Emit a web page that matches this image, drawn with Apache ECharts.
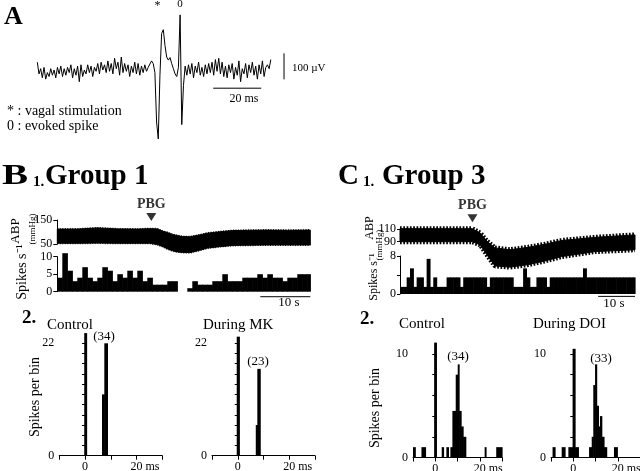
<!DOCTYPE html>
<html><head><meta charset="utf-8">
<script src="https://cdn.jsdelivr.net/npm/echarts@6/dist/echarts.min.js"></script>
<style>html,body{margin:0;padding:0;background:#fff}#c{width:640px;height:471px}</style>
</head><body><div id="c"></div>
<script>
// ================= DATA =================
// Panel A: extracellular trace, one sample every aDt ms (µV)
const aDt = 0.7;
const aVolt = [
  30,-15,5,-30,10,-35,-10,-25,5,-20,
  0,-30,10,-15,15,-25,5,-20,10,-10,
  20,-30,5,-20,15,-45,20,-25,0,-15,
  20,-10,15,-25,10,-5,25,-15,30,0,
  20,-10,35,-5,25,-15,45,5,30,-20,
  50,-10,25,-5,20,-25,15,-10,30,-15,
  25,-20,15,-10,20,-5,10,5,
  35,25,-10,-200,-265,-20,140,155,95,50,38,48,25,5,-15,-25,10,212,-210,-60,15,
  -20,20,-15,25,-30,15,-10,30,-20,10,
  -25,20,-15,25,-10,30,-20,40,-5,45,
  -15,30,-25,15,-30,20,-10,25,-35,10,
  -20,35,-45,5,-15,25,-30,20,-10,30,
  -20,15,-35,20,-15,35,-25,10,20,5,
  40
];
const aScaleV = 100;   // µV
const aScaleT = 20;    // ms

// Panel B1 (Group 1): arterial blood pressure envelope (mmHg) vs time (s)
const bTime   = [0, 4, 8, 12, 16, 18.5, 20, 21, 22, 23, 24, 25, 26.5, 28.5, 30, 32, 35, 38, 42, 46, 50.6];
const bAbpHi  = [112,112,117,113,112,114,113,104,98,90,85,81,80,88,95,100,106,107,108,107,108];
const bAbpLo  = [53,53,54,53,53,53,48,40,30,22,17,15,14,24,33,38,44,45,46,46,46];
// B1 firing rate, 1-s bins (spikes/s)
const bBinW = 1;
const bSpikes = [
  4,11,6,3,4,7,4,3,4,7,
  6,3,5,4,6,4,6,3,4,2,
  2,2,3,3,0,0,1,3,2,2,
  2,3,3,5,3,3,3,4,4,4,
  5,4,5,4,4,3,4,4,5,5,
  5
];
const bPbg = 18.8;      // s, PBG injection
const bTimeMax = 50.6;

// Panel C1 (Group 3)
const cTime  = [0, 10, 20.6, 22.9, 24.8, 27.1, 31.4, 36.6, 41.4, 46.2, 55.7, 67.1];
const cAbpHi = [111,111,111,104,91,80,77,81,86,92,97,101];
const cAbpLo = [90,90,90,85,69,51,49,53,59,66,74,77];
const cBinW = 0.95;
const cSpikes = [
  1.5,1.5,3.5,5.4,1.5,3.5,3.5,1.5,7.4,1.5,
  3.5,1.5,1.5,1.5,3.5,3.5,3.5,3.5,1.5,3.5,
  3.5,3.5,3.5,3.5,3.5,3.5,1.5,3.5,3.5,3.5,
  3.5,3.5,3.5,3.5,1.5,1.5,1.5,5.4,3.5,1.5,
  1.5,3.5,3.5,3.5,1.5,3.5,3.5,3.5,3.5,3.5,
  3.5,3.5,3.5,3.5,3.5,5.4,3.5,3.5,3.5,3.5,
  3.5,3.5,3.5,3.5,3.5,3.5,3.5,3.5,3.5,3.5,
  3.5
];
const cPbg = 20.7;
const cTimeMax = 67.1;

// Peristimulus histograms: [binStart ms, binEnd ms, spikes per bin]
const bCtrlBins = [[-0.3,0.6,24],[6.6,7.5,12],[7.5,8.7,22]];
const bMkBins   = [[-0.4,0.6,23.3],[7.0,7.6,6],[7.6,8.7,17]];
const cCtrlBins = [[-10,-9,1],[-6.2,-4.4,1],[-0.5,0.5,11.1],[2.9,3.7,1],[5.0,5.9,1],[6.8,7.7,1],
  [7.7,9.2,4.5],[9.2,10.1,8],[10.1,10.7,9],[10.7,11.6,4.5],[11.6,12.5,3],[12.5,13.7,2],[22.2,22.8,1],[27.4,30,1]];
const cDoiBins  = [[-9.3,-8.2,1],[-5.2,-3.7,1],[-2.2,-0.3,1],[-0.3,0.8,10.5],[0.8,2.3,1],[7.1,8.3,1],
  [8.3,9.0,2],[9.0,9.8,7],[9.8,10.5,9],[10.5,11.3,5],[11.3,12,3],[12,12.8,4],[12.8,13.8,2],[13.8,15,1],[18.3,19.8,1]];
const bCounts = ['(34)', '(23)'];
const cCounts = ['(34)', '(33)'];

// ================= CHART =================
const SERIF = '"Liberation Serif","Times New Roman",serif';
const chart = echarts.init(document.getElementById('c'), null, {renderer:'canvas', width:640, height:471});

function g(left, top, width, height){ return {left, top, width, height, containLabel:false, outerBoundsMode:'none'}; }
const grids = [
  g(37.3, 5, 288, 143),        // 0 A
  g(57.3, 220, 253, 24),       // 1 B ABP
  g(57.3, 256.7, 253, 35),     // 2 B spikes
  g(400, 229.3, 235, 12.4),    // 3 C ABP
  g(400, 256, 235, 38),        // 4 C spikes
  g(59.25, 343.3, 103, 112.4), // 5 B ctrl
  g(212, 343.3, 103, 112.4),   // 6 B MK
  g(413, 354, 89, 103.5),      // 7 C ctrl
  g(551, 354, 89, 103.5)       // 8 C DOI
];

const lab = {color:'#000', fontFamily:SERIF, fontSize:12};
function hidden(gi, min, max){ return {type:'value', gridIndex:gi, min, max, show:false}; }
function yAx(gi, min, max, interval, shown, tickLen, margin){
  return {type:'value', gridIndex:gi, min, max, interval,
    axisLine:{show:true, lineStyle:{color:'#000', width:1}},
    axisTick:{show:true, length:tickLen, lineStyle:{color:'#000', width:1}},
    axisLabel:Object.assign({margin, showMinLabel:true, showMaxLabel:true,
      formatter:v => shown.indexOf(v) >= 0 ? String(v) : ''}, lab),
    splitLine:{show:false}};
}
function xMs(gi){
  return {type:'value', gridIndex:gi, min:-10, max:30, interval:10,
    axisLine:{show:true, onZero:false, lineStyle:{color:'#000', width:1}},
    axisTick:{show:true, length:4, lineStyle:{color:'#000'}},
    axisLabel:Object.assign({margin:5, formatter:v => v === 0 ? '0' : (v === 20 ? '{ms|20 ms}' : ''),
      rich:{ms:{padding:[0,0,0,17], color:'#000', fontFamily:SERIF, fontSize:12}}}, lab),
    splitLine:{show:false}};
}

const xAxis = [
  hidden(0, 0, 120),
  hidden(1, 0, bTimeMax),
  hidden(2, 0, bTimeMax),
  hidden(3, 0, cTimeMax),
  hidden(4, 0, cTimeMax),
  xMs(5), xMs(6), xMs(7), xMs(8)
];
const yAxis = [
  hidden(0, -300, 250),
  yAx(1, 50, 150, 100, [50,150], 4, 5),
  yAx(2, 0, 10, 5, [0,5,10], 4, 5),
  yAx(3, 90, 110, 20, [90,110], 3, 4),
  yAx(4, 0, 8, 4, [0,8], 3, 4),
  yAx(5, 0, 22, 2, [0,22], 3, 5),
  yAx(6, 0, 22, 2, [0,22], 3, 5),
  yAx(7, 0, 10, 2, [0,10], 3, 5),
  yAx(8, 0, 10, 2, [0,10], 3, 5)
];

function rectItem(params, api){
  const x0 = api.value(0), x1 = api.value(1), v = api.value(2);
  if (!(v > 0)) return null;
  const p0 = api.coord([x0, v]);
  const p1 = api.coord([x1, 0]);
  return {type:'rect', shape:{x:p0[0], y:p0[1], width:p1[0]-p0[0]+0.6, height:p1[1]-p0[1]},
    style:{fill:'#000'}};
}
function binsFrom(vals, w, xmax){
  return vals.map((v,i) => [i*w, Math.min((i+1)*w, xmax), v]);
}
function hist(gi, data){
  return {type:'custom', xAxisIndex:gi, yAxisIndex:gi, data, renderItem:rectItem,
    encode:{x:[0,1], y:2}, clip:false, silent:true};
}
function plainLine(gi, data, width, extra){
  return Object.assign({type:'line', xAxisIndex:gi, yAxisIndex:gi, data, symbol:'none',
    lineStyle:{color:'#000', width:width}, clip:false, silent:true}, extra||{});
}
// filled pressure band between lower (diastolic) and upper (systolic) envelopes
function band(gi, t, hi, lo){
  return {type:'custom', xAxisIndex:gi, yAxisIndex:gi, clip:false, silent:true,
    data: t.map((x,i)=>[x, hi[i], lo[i]]), encode:{x:0, y:[1,2]},
    renderItem:(params, api) => {
      if (params.dataIndex !== 0) return null;
      const pts = [];
      for (let i = 0; i < t.length; i++) pts.push(api.coord([t[i], hi[i]]));
      for (let i = t.length-1; i >= 0; i--) pts.push(api.coord([t[i], lo[i]]));
      return {type:'polygon', shape:{points:pts}, style:{fill:'#000', stroke:'#000', lineWidth:1}};
    }};
}
function pbgMarker(gi, t, y){
  return {type:'scatter', xAxisIndex:gi, yAxisIndex:gi, data:[[t, y]], symbol:'triangle',
    symbolRotate:180, symbolSize:[10,8], itemStyle:{color:'#000'}, clip:false, silent:true,
    label:{show:true, position:'top', distance:2, formatter:'PBG', color:'#000',
      fontFamily:SERIF, fontWeight:'bold', fontSize:14}};
}

const series = [
  plainLine(0, aVolt.map((v,i)=>[i*aDt, v]), 1),
  plainLine(0, [[102.8, 64],[102.8, 64-aScaleV]], 1),
  plainLine(0, [[73.3, -70],[73.3+aScaleT, -70]], 1),
  band(1, bTime, bAbpHi, bAbpLo),
  plainLine(1, bTime.map((x,i)=>[x, bAbpHi[i]]), 2, {lineStyle:{color:'#000', width:2, type:[1,1.5]}}),
  plainLine(1, bTime.map((x,i)=>[x, bAbpLo[i]]), 2, {lineStyle:{color:'#000', width:2, type:[1,1.5]}}),
  pbgMarker(1, bPbg, 162),
  hist(2, binsFrom(bSpikes, bBinW, bTimeMax)),
  plainLine(2, [[bTimeMax-10, -1.43],[bTimeMax, -1.43]], 1),
  band(3, cTime, cAbpHi, cAbpLo),
  plainLine(3, cTime.map((x,i)=>[x, cAbpHi[i]]), 5, {lineStyle:{color:'#000', width:5, type:[1.7,1.6]}}),
  plainLine(3, cTime.map((x,i)=>[x, cAbpLo[i]]), 5, {lineStyle:{color:'#000', width:5, type:[1.7,1.6]}}),
  pbgMarker(3, cPbg, 127.7),
  hist(4, binsFrom(cSpikes, cBinW, cTimeMax)),
  plainLine(4, [[cTimeMax-10.5, -0.5],[cTimeMax, -0.5]], 1),
  hist(5, bCtrlBins), hist(6, bMkBins), hist(7, cCtrlBins), hist(8, cDoiBins)
];

function T(text, x, y, size, opts){
  opts = opts || {};
  return {type:'text', x, y, rotation: opts.rot || 0, scaleX: opts.sx || 1, silent:true,
    style:{text, fill:'#000', font:(opts.bold?'bold ':'') + size + 'px ' + SERIF,
      textAlign: opts.align || 'left', textVerticalAlign:'middle'}};
}
const R = Math.PI/2;
const graphics = [
  T('A', 4, 17.5, 26, {bold:true}),
  T('*', 157.5, 6, 12, {align:'center'}),
  T('0', 180, 4.5, 11, {align:'center'}),
  T('100 µV', 292, 68.5, 11),
  T('20 ms', 244, 99, 12, {align:'center'}),
  T('* : vagal stimulation', 7, 111, 14),
  T('0 : evoked spike', 7, 126, 14),
  // B1
  T('B', 2, 177, 29, {bold:true, sx:1.35}),
  T('1.', 33, 182, 15, {bold:true}),
  T('Group 1', 45, 177, 29, {bold:true}),
  T('ABP', 16, 231, 13, {align:'center', rot:R}),
  T('(mmHg)', 33, 229, 9, {align:'center', rot:R}),
  T('Spikes s⁻¹', 22, 272, 14, {align:'center', rot:R}),
  T('10 s', 289, 303, 13, {align:'center'}),
  // C1
  T('C', 338, 177, 29, {bold:true}),
  T('1.', 363, 182, 15, {bold:true}),
  T('Group 3', 382, 177, 29, {bold:true}),
  T('ABP', 370, 228, 12, {align:'center', rot:R}),
  T('(mmHg)', 380, 245, 9, {align:'center', rot:R}),
  T('Spikes s⁻¹', 374, 277, 12, {align:'center', rot:R}),
  T('10 s', 614, 304, 13, {align:'center'}),
  // B2
  T('2.', 22, 318, 19, {bold:true}),
  T('Control', 47, 325, 15),
  T('During MK', 203, 325, 15),
  T(bCounts[0], 104, 337, 13, {align:'center'}),
  T(bCounts[1], 258, 362, 13, {align:'center'}),
  T('Spikes per bin', 35, 397, 14, {align:'center', rot:R}),
  // C2
  T('2.', 360, 319, 19, {bold:true}),
  T('Control', 399, 324, 15),
  T('During DOI', 533, 324, 15),
  T(cCounts[0], 458, 357, 13, {align:'center'}),
  T(cCounts[1], 601, 359, 13, {align:'center'}),
  T('Spikes per bin', 375, 408, 14, {align:'center', rot:R})
];

chart.setOption({
  animation:false,
  backgroundColor:'#fff',
  textStyle:{fontFamily:SERIF, color:'#000'},
  grid:grids, xAxis, yAxis, series, graphic:graphics
});
</script></body></html>
